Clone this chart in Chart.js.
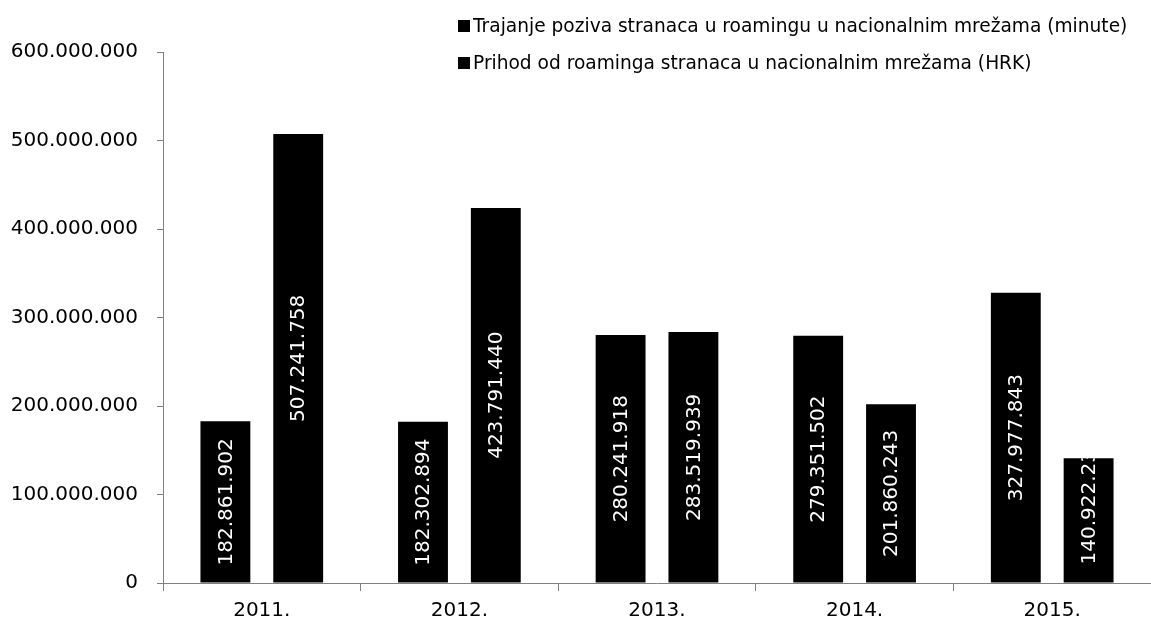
<!DOCTYPE html>
<html>
<head>
<meta charset="utf-8">
<script src="https://cdn.jsdelivr.net/npm/chart.js@4/dist/chart.umd.min.js"></script>
<style>
html,body{margin:0;padding:0;background:#fff;}
#wrap{width:1151px;height:629px;position:relative;}
</style>
</head>
<body>
<div id="wrap"><canvas id="c" width="1151" height="629"></canvas></div>
<script>
const categories = ["2011.", "2012.", "2013.", "2014.", "2015."];
const seriesNames = [
  "Trajanje poziva stranaca u roamingu u nacionalnim mrežama (minute)",
  "Prihod od roaminga stranaca u nacionalnim mrežama (HRK)"
];
const trajanje = [182861902, 182302894, 280241918, 279351502, 327977843];
const prihod = [507241758, 423791440, 283519939, 201860243, 140922230];
const yTicks = [0, 100000000, 200000000, 300000000, 400000000, 500000000, 600000000];

function fmt(v){
  return String(Math.round(v)).replace(/\B(?=(\d{3})+(?!\d))/g, ".");
}

const FONT = "'DejaVu Sans', Verdana, sans-serif";

const labelPlugin = {
  id: 'barLabels',
  afterDatasetsDraw(chart){
    const ctx = chart.ctx;
    chart.data.datasets.forEach((ds, di) => {
      const meta = chart.getDatasetMeta(di);
      meta.data.forEach((bar, i) => {
        const txt = fmt(ds.data[i]);
        ctx.save();
        ctx.font = "20px " + FONT;
        const w = ctx.measureText(txt).width;
        const top = bar.y, base = bar.base;
        const h = base - top;
        const half = bar.width / 2;
        ctx.beginPath();
        ctx.rect(bar.x - half, top, bar.width, h);
        ctx.clip();
        let cy;
        if (w + 20 <= h) cy = (top + base) / 2;
        else cy = base - 18 - w / 2;
        ctx.translate(bar.x, cy);
        ctx.rotate(-Math.PI / 2);
        ctx.fillStyle = "#fff";
        ctx.textAlign = "center";
        ctx.textBaseline = "middle";
        ctx.fillText(txt, 0, 1);
        ctx.restore();
      });
    });
  }
};

const legendPlugin = {
  id: 'customLegend',
  afterDraw(chart){
    const ctx = chart.ctx;
    ctx.save();
    ctx.font = "18.6px " + FONT;
    ctx.textBaseline = "alphabetic";
    const rows = [32, 69];
    chart.data.datasets.forEach((ds, i) => {
      const y = rows[i];
      ctx.fillStyle = "#000";
      ctx.fillRect(458, y - 12, 12, 12);
      ctx.fillText(ds.label, 473, y);
    });
    ctx.restore();
  }
};

new Chart(document.getElementById('c'), {
  type: 'bar',
  data: {
    labels: categories,
    datasets: [
      { label: seriesNames[0], data: trajanje, backgroundColor: '#000', borderWidth: 0,
        categoryPercentage: 0.737, barPercentage: 0.685 },
      { label: seriesNames[1], data: prihod, backgroundColor: '#000', borderWidth: 0,
        categoryPercentage: 0.737, barPercentage: 0.685 }
    ]
  },
  options: {
    responsive: false,
    animation: false,
    layout: { padding: { top: 52, right: 0, bottom: 0, left: 10 } },
    plugins: { legend: { display: false }, tooltip: { enabled: false } },
    scales: {
      x: {
        afterFit(scale){ scale.height = 46; },
        grid: { display: true, drawOnChartArea: false, tickLength: 8, color: '#808080' },
        border: { color: '#808080' },
        ticks: { color: '#000', font: { family: FONT, size: 20 }, padding: 8 }
      },
      y: {
        min: 0, max: 600000000,
        afterBuildTicks(scale){ scale.ticks = yTicks.map(v => ({ value: v })); },
        afterFit(scale){ scale.width = 153; },
        grid: { display: true, drawOnChartArea: false, tickLength: 6, color: '#808080' },
        border: { color: '#808080' },
        ticks: { color: '#000', font: { family: FONT, size: 20 }, padding: 19,
          callback: v => fmt(v) }
      }
    }
  },
  plugins: [labelPlugin, legendPlugin]
});
</script>
</body>
</html>
